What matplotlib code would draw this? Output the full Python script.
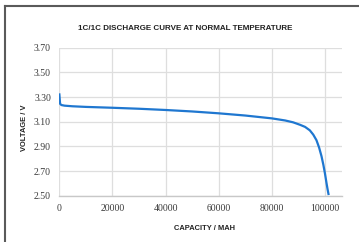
import matplotlib
matplotlib.use("Agg")
import matplotlib.pyplot as plt
from matplotlib.lines import Line2D

# discharge curve
capacity = [0, 300, 800, 2000, 5000, 10000, 20000, 30000, 40000, 50000, 60000,
            70000, 80000, 85000, 88000, 90600, 92500, 94300, 95600, 96800,
            97800, 98700, 99400, 100000, 100600, 101000, 101400]
voltage = [3.33, 3.245, 3.235, 3.230, 3.225, 3.220, 3.213, 3.205, 3.195, 3.183, 3.168,
           3.150, 3.127, 3.110, 3.095, 3.075, 3.058, 3.030, 2.995, 2.950,
           2.890, 2.820, 2.750, 2.680, 2.600, 2.550, 2.505]

x_ticks = [0, 20000, 40000, 60000, 80000, 100000]
y_ticks = [2.50, 2.70, 2.90, 3.10, 3.30, 3.50, 3.70]

W, H = 359, 242
fig = plt.figure(figsize=(W / 100, H / 100), dpi=100)
ax = fig.add_axes([59.3 / W, 1 - 195.7 / H, (341.7 - 59.3) / W, (195.7 - 47.7) / H])

ax.plot(capacity, voltage, color="#1f77d0", lw=1.6, solid_capstyle="butt", zorder=3)

ax.set_xlim(0, 106300)
ax.set_ylim(2.50, 3.70)
ax.set_xticks(x_ticks)
ax.set_yticks(y_ticks)
ax.set_xticklabels([str(t) for t in x_ticks])
ax.set_yticklabels([f"{t:.2f}" for t in y_ticks])
ax.grid(True, color="#dedede", lw=0.9)
ax.set_axisbelow(True)
for s in ["top", "right", "left"]:
    ax.spines[s].set_visible(False)
ax.spines["bottom"].set_color("#c8c8c8")
ax.spines["bottom"].set_linewidth(1.0)
ax.tick_params(length=0, labelsize=7, labelcolor="#3a3a3a", pad=6)
for lab in ax.get_xticklabels() + ax.get_yticklabels():
    lab.set_family("Liberation Serif")

fig.text(185 / W, 1 - 28 / H, "1C/1C DISCHARGE CURVE AT NORMAL TEMPERATURE",
         ha="center", va="center", fontsize=5.8, fontweight="bold",
         family="Liberation Sans", color="#222222")
fig.text(204 / W, 1 - 228 / H, "CAPACITY / MAH", ha="center", va="center",
         fontsize=5.4, fontweight="bold", family="Liberation Sans", color="#222222")
fig.text(25 / W, 1 - 128 / H, "VOLTAGE / V", ha="center", va="center", rotation=90,
         fontsize=5.4, fontweight="bold", family="Liberation Sans", color="#222222")

# screenshot frame on the left and top edges
fig.add_artist(Line2D([4.5 / W, 4.5 / W], [0, 1 - 5.5 / H], transform=fig.transFigure,
                      color="#5a5a5a", lw=1.5))
fig.add_artist(Line2D([4.5 / W, 1], [1 - 5.5 / H, 1 - 5.5 / H], transform=fig.transFigure,
                      color="#5a5a5a", lw=1.5))

fig.savefig("out.png", dpi=100, facecolor="white")
